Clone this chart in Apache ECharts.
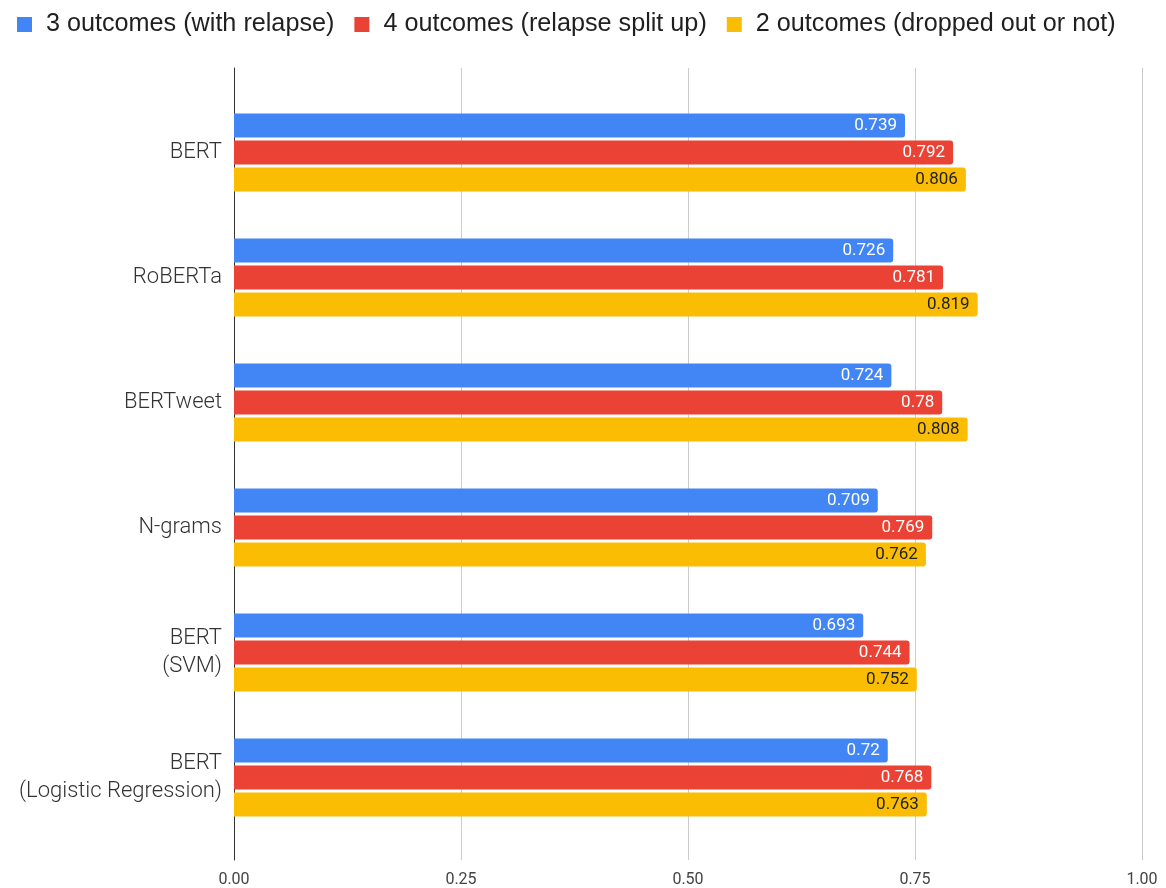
<!DOCTYPE html>
<html>
<head>
<meta charset="utf-8">
<script src="https://cdn.jsdelivr.net/npm/echarts@6/dist/echarts.min.js"></script>
<style>
  html, body { margin: 0; padding: 0; background: #fff; }
  #chart { width: 1166px; height: 888px; }
</style>
</head>
<body>
<div id="chart"></div>
<script>
// data
const models = ["BERT", "RoBERTa", "BERTweet", "N-grams", "BERT\n(SVM)", "BERT\n(Logistic Regression)"];
const threeOutcomes = [0.739, 0.726, 0.724, 0.709, 0.693, 0.72];
const fourOutcomes = [0.792, 0.781, 0.78, 0.769, 0.744, 0.768];
const twoOutcomes = [0.806, 0.819, 0.808, 0.762, 0.752, 0.763];
const seriesNames = ["3 outcomes (with relapse)", "4 outcomes (relapse split up)", "2 outcomes (dropped out or not)"];
const colors = ["#4285F4", "#EA4335", "#FBBC04"];
const labelColors = ["#fff", "#fff", "#222"];

const chart = echarts.init(document.getElementById("chart"));

function barSeries(i, data) {
  return {
    name: seriesNames[i],
    type: "bar",
    xAxisIndex: 1,
    yAxisIndex: 1,
    data: data,
    barWidth: 24,
    barGap: "12%",
    itemStyle: { color: colors[i], borderRadius: [0, 3, 3, 0] },
    label: {
      show: true,
      position: "insideRight",
      distance: 8,
      color: labelColors[i],
      fontFamily: "Roboto",
      fontSize: 17
    },
    emphasis: { disabled: true }
  };
}

const options = {
  animation: false,
  color: colors,
  legend: {
    top: 7,
    left: 12,
    itemWidth: 15,
    itemHeight: 15,
    itemGap: 20,
    icon: "rect",
    textStyle: {
      fontFamily: "Liberation Sans",
      fontSize: 25.2,
      color: "#1f1f1f",
      padding: [0, 0, 0, 9]
    },
    data: seriesNames
  },
  grid: [
    // frame: gridlines + left axis line
    { left: 234, right: 24, top: 68, bottom: 28 },
    // bars
    { left: 234, right: 24, top: 90, bottom: 48 }
  ],
  xAxis: [
    {
      gridIndex: 0,
      type: "value",
      min: 0,
      max: 1,
      interval: 0.25,
      axisLine: { show: false },
      axisTick: { show: false },
      splitLine: { show: true, lineStyle: { color: "#ccc", width: 1 } },
      axisLabel: {
        margin: 12,
        fontFamily: "Roboto",
        fontSize: 16,
        color: "#444",
        formatter: function (v) { return v.toFixed(2); }
      }
    },
    {
      gridIndex: 1,
      type: "value",
      min: 0,
      max: 1,
      show: false
    }
  ],
  yAxis: [
    {
      gridIndex: 0,
      type: "value",
      min: 0,
      max: 1,
      axisLine: { show: true, lineStyle: { color: "#333", width: 1 } },
      axisTick: { show: false },
      axisLabel: { show: false },
      splitLine: { show: false }
    },
    {
      gridIndex: 1,
      type: "category",
      inverse: true,
      data: models,
      axisLine: { show: false },
      axisTick: { show: false },
      splitLine: { show: false },
      axisLabel: {
        margin: 12,
        fontFamily: "Roboto",
        fontWeight: 300,
        fontSize: 22,
        lineHeight: 28,
        color: "#333"
      }
    }
  ],
  series: [
    barSeries(0, threeOutcomes),
    barSeries(1, fourOutcomes),
    barSeries(2, twoOutcomes)
  ]
};

chart.setOption(options);
</script>
</body>
</html>
